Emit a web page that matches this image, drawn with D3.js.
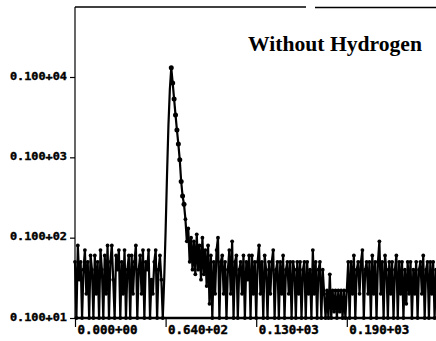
<!DOCTYPE html>
<html>
<head>
<meta charset="utf-8">
<script src="https://cdn.jsdelivr.net/npm/d3@7/dist/d3.min.js"></script>
<style>
  html, body { margin: 0; padding: 0; background: #fff; }
  svg { display: block; }
</style>
</head>
<body>
<div id="chart"></div>
<script>
// Counts per channel (0..255), log-scaled spectrum
const channels = d3.range(256);
const counts = [
  // 0-62 background
  5, 1, 8, 3, 5, 1, 4, 7, 2, 5, 1, 6, 4, 1, 6, 2, 5, 1, 7, 4,
  1, 6, 2, 8, 1, 5, 8, 3, 1, 6, 4, 7, 1, 5, 2, 7, 1, 4, 6, 1,
  6, 2, 5, 8, 1, 4, 6, 2, 7, 1, 5, 4, 7, 1, 3, 2, 5, 7, 1, 4,
  6, 3, 1,
  // 63-67 rising edge
  3, 12, 60, 250, 700,
  // 68-78 peak and decay
  1300, 845, 534, 337, 219, 147, 93, 50, 33, 26, 17,
  // 79-95 tail
  9, 13, 5, 10, 4, 9, 3.5, 11, 4, 8, 3, 10, 3.5, 7, 2.5, 8, 1.5,
  // 96-177 background
  6, 1, 5, 2, 7, 10, 1, 5, 6, 2, 5, 1, 4, 7, 2, 9, 1, 5, 6, 1,
  4, 5, 2, 6, 1, 5, 3, 6, 1, 6, 2, 5, 1, 5, 8, 2, 5, 1, 6, 4,
  1, 5, 2, 5, 7, 1, 4, 5, 1, 5, 2, 6, 1, 4, 5, 2, 5, 1, 5, 4,
  1, 5, 2, 5, 1, 4, 5, 1, 5, 2, 4, 1, 7, 2, 5, 1, 4, 5, 1, 4,
  2, 1,
  // 178-192 quiet stretch
  2.2, 1, 3.5, 1, 2.2, 1.2, 2.2, 1, 2.2, 1.2, 2.2, 1, 2.2, 1, 2.2,
  // 193-255 background
  5, 1, 5, 2, 6, 1, 4, 5, 2, 5, 7, 1, 4, 5, 2, 5, 1, 6, 2, 5,
  1, 5, 9, 2, 5, 1, 6, 4, 1, 5, 2, 5, 1, 4, 6, 1, 5, 2, 5, 1,
  4, 1.5, 5, 2, 5, 1, 4, 2, 5, 1, 4, 5, 2, 6, 1, 4, 5, 1, 5, 2,
  5, 1, 4
];
// The leading edge of the peak is drawn as a bare line
const edgeStart = 63, edgeEnd = 67;

const xTickValues = [0, 64, 128, 192];
const xTickLabels = ["0.000+00", "0.640+02", "0.130+03", "0.190+03"];
const yTickValues = [1, 10, 100, 1000];
const yTickLabels = ["0.100+01", "0.100+02", "0.100+03", "0.100+04"];
const titleText = "Without Hydrogen";

const W = 436, H = 341;
const plotLeft = 75, plotRight = 436, plotTop = 7, plotBottom = 318;

const svg = d3.select("#chart").append("svg")
  .attr("width", W).attr("height", H);

const x = d3.scaleLinear().domain([0, 255]).range([plotLeft, plotRight]);
const y = d3.scaleLog().domain([1, 1000]).range([plotBottom, 77]);

const data = channels.map((c, i) => ({ c, v: counts[i] }));

// Frame: left axis, top border (with a break), baseline
const frame = svg.append("g").attr("stroke", "#000").attr("fill", "none");
frame.append("line").attr("x1", plotLeft).attr("x2", plotLeft)
  .attr("y1", plotTop).attr("y2", plotBottom).attr("stroke-width", 1.2);
frame.append("line").attr("x1", plotLeft).attr("x2", 306)
  .attr("y1", plotTop).attr("y2", plotTop).attr("stroke-width", 1.5);
frame.append("line").attr("x1", 315).attr("x2", plotRight)
  .attr("y1", plotTop + 0.5).attr("y2", plotTop + 0.5).attr("stroke-width", 1.5);
frame.append("line").attr("x1", plotLeft).attr("x2", plotRight)
  .attr("y1", plotBottom).attr("y2", plotBottom).attr("stroke-width", 2.5);

// Y axis
const yAxis = svg.append("g")
  .attr("transform", `translate(${plotLeft},0)`)
  .call(d3.axisLeft(y).tickValues(yTickValues)
    .tickFormat((d, i) => yTickLabels[i]).tickSize(5).tickPadding(3));
yAxis.select(".domain").remove();
yAxis.selectAll(".tick line").attr("stroke", "#000").attr("stroke-width", 1.2);
yAxis.selectAll(".tick text")
  .attr("fill", "#000")
  .attr("stroke", "#000")
  .attr("stroke-width", 0.4)
  .attr("font-family", "DejaVu Sans Mono, monospace")
  .attr("font-weight", "bold")
  .attr("font-size", 10.5)
  .attr("textLength", 57)
  .attr("lengthAdjust", "spacingAndGlyphs")
  .attr("dy", "0.2em");

// X axis
const xAxis = svg.append("g")
  .attr("transform", `translate(0,${plotBottom})`)
  .call(d3.axisBottom(x).tickValues(xTickValues)
    .tickFormat((d, i) => xTickLabels[i]).tickSize(9).tickPadding(2));
xAxis.select(".domain").remove();
xAxis.selectAll(".tick line").attr("stroke", "#000").attr("stroke-width", 1.2);
xAxis.selectAll(".tick text")
  .attr("fill", "#000")
  .attr("stroke", "#000")
  .attr("stroke-width", 0.4)
  .attr("text-anchor", "start")
  .attr("x", 2)
  .attr("y", 8)
  .attr("font-family", "DejaVu Sans Mono, monospace")
  .attr("font-weight", "bold")
  .attr("font-size", 11.5)
  .attr("textLength", 60)
  .attr("lengthAdjust", "spacingAndGlyphs");

// Spectrum trace
const line = d3.line().x(d => x(d.c)).y(d => y(d.v));
svg.append("path").datum(data)
  .attr("d", line)
  .attr("fill", "none")
  .attr("stroke", "#000")
  .attr("stroke-width", 2.2)
  .attr("stroke-linejoin", "round");

// Point markers (none on the leading edge)
svg.append("g").selectAll("circle")
  .data(data.filter(d => d.c < edgeStart || d.c > edgeEnd))
  .join("circle")
  .attr("cx", d => x(d.c))
  .attr("cy", d => y(d.v))
  .attr("r", d => d.v > 20 ? 2.5 : 1.9)
  .attr("fill", "#000");

// Title
svg.append("text")
  .attr("x", 248).attr("y", 51)
  .attr("font-family", "Liberation Serif, Times New Roman, serif")
  .attr("font-weight", "bold")
  .attr("font-size", 21)
  .attr("textLength", 174)
  .attr("lengthAdjust", "spacingAndGlyphs")
  .attr("fill", "#000")
  .text(titleText);
</script>
</body>
</html>
